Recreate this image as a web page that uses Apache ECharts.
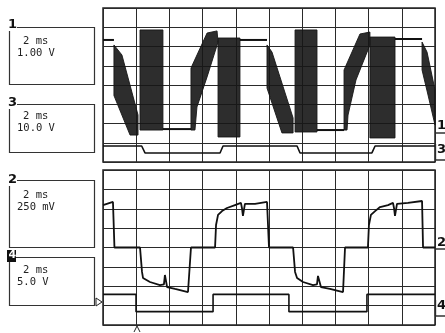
<!DOCTYPE html>
<html><head><meta charset="utf-8">
<script src="https://cdn.jsdelivr.net/npm/echarts@6/dist/echarts.min.js"></script>
<style>html,body{margin:0;padding:0;background:#fff}#c{width:445px;height:333px}</style>
</head><body><div id="c"></div><script>
// Time axis: 0..20 ms (2 ms/div), vertical axis in screen divisions (-4..4)
const channelIds = ['1', '3', '2', '4'];
const timebase = ['2 ms', '2 ms', '2 ms', '2 ms'];
const voltScales = ['1.00 V', '10.0 V', '250 mV', '5.0 V'];

// Channel 1: flat parts of the trace
const ch1Flats = [
  [[0, 2.34], [0.66, 2.34]],
  [[3.61, -2.29], [5.30, -2.29]],
  [[8.25, 2.34], [9.88, 2.34]],
  [[12.89, -2.34], [14.52, -2.34]],
  [[17.59, 2.39], [19.22, 2.39]]
];
// Channel 1: envelopes of the densely switching parts
const ch1Bands = [
  [[0.66, 2.08], [1.14, 1.56], [2.11, -1.56], [2.11, -2.60], [1.63, -2.60], [0.66, -0.55]],
  [[2.23, 2.86], [3.61, 2.86], [3.61, -2.34], [2.23, -2.34]],
  [[5.30, -2.34], [5.30, 0.88], [6.27, 2.70], [6.87, 2.81], [6.93, 2.23], [6.27, 0.42], [5.66, -1.14], [5.54, -2.34]],
  [[6.93, 2.44], [8.25, 2.44], [8.25, -2.70], [6.93, -2.70]],
  [[9.88, 2.08], [10.18, 1.71], [11.45, -1.71], [11.45, -2.49], [10.78, -2.49], [9.88, -0.16]],
  [[11.57, 2.86], [12.89, 2.86], [12.89, -2.44], [11.57, -2.44]],
  [[14.52, -2.34], [14.52, 0.78], [15.48, 2.65], [16.08, 2.75], [16.08, 2.08], [15.24, 0.26], [14.76, -1.56], [14.70, -2.34]],
  [[16.08, 2.49], [17.59, 2.49], [17.59, -2.75], [16.08, -2.75]],
  [[19.22, 2.23], [19.52, 1.71], [20, -0.26], [20, -2.08], [19.58, -0.52], [19.22, 0.78]]
];
const ch3 = [[0, -3.17], [2.33, -3.17], [2.53, -3.53], [7.05, -3.53], [7.23, -3.17], [11.69, -3.17], [11.87, -3.53], [16.20, -3.53], [16.39, -3.17], [20, -3.17]];
const ch2 = [[0, 2.19], [0.60, 2.35], [0.66, 2.30], [0.69, 0], [2.23, 0], [2.35, -1.26], [2.41, -1.57], [2.83, -1.78], [3.43, -1.94], [3.67, -1.90], [3.73, -1.42], [3.86, -2.04], [4.34, -2.14], [5.12, -2.30], [5.24, -2.30], [5.30, 0], [6.75, 0], [6.81, 1.16], [6.93, 1.68], [7.17, 1.88], [7.47, 2.04], [7.95, 2.19], [8.31, 2.30], [8.37, 2.04], [8.43, 1.63], [8.55, 2.25], [9.16, 2.25], [9.88, 2.35], [9.94, 2.35], [10.0, 0], [11.45, 0], [11.57, -1.26], [11.69, -1.57], [12.05, -1.78], [12.65, -1.94], [12.89, -1.90], [12.95, -1.47], [13.13, -2.04], [13.67, -2.14], [14.46, -2.30], [14.52, -2.30], [14.58, 0], [15.96, 0], [16.02, 1.16], [16.14, 1.68], [16.39, 1.88], [16.69, 2.09], [17.17, 2.19], [17.47, 2.30], [17.53, 2.04], [17.59, 1.63], [17.71, 2.25], [18.37, 2.30], [19.22, 2.40], [19.28, 0], [20, 0]];
const ch4 = [[0, -2.42], [1.99, -2.42], [1.99, -3.31], [6.63, -3.31], [6.63, -2.42], [11.20, -2.42], [11.20, -3.31], [15.90, -3.31], [15.90, -2.42], [20, -2.42]];

const chart = echarts.init(document.getElementById('c'), null, {renderer: 'canvas'});
const gridLine = {show: true, lineStyle: {color: '#2a2a2a', width: 1}};
function xAx(i) {
  return {type: 'value', gridIndex: i, min: 0, max: 20, interval: 2,
    axisLabel: {show: false}, axisTick: {show: false}, axisLine: {show: false}, splitLine: gridLine};
}
function yAx(i) {
  return {type: 'value', gridIndex: i, min: -4, max: 4, interval: 1,
    axisLabel: {show: false}, axisTick: {show: false}, axisLine: {show: false}, splitLine: gridLine};
}
const traceStyle = (w) => ({color: '#111', width: w});
const series = [];
ch1Flats.forEach(seg => series.push({type: 'line', xAxisIndex: 0, yAxisIndex: 0, data: seg, symbol: 'none',
  lineStyle: traceStyle(2), silent: true, animation: false}));
series.push({
  type: 'custom', xAxisIndex: 0, yAxisIndex: 0, animation: false, silent: true,
  data: ch1Bands.map((b, i) => [b[0][0], b[0][1], i]),
  renderItem: function (params, api) {
    const band = ch1Bands[params.dataIndex];
    return {type: 'polygon', shape: {points: band.map(p => api.coord(p))},
      style: {fill: '#161616', stroke: '#161616', lineWidth: 1, opacity: 0.9}};
  }
});
series.push({type: 'line', xAxisIndex: 0, yAxisIndex: 0, data: ch3, symbol: 'none', lineStyle: traceStyle(1.6), animation: false, silent: true});
series.push({type: 'line', xAxisIndex: 1, yAxisIndex: 1, data: ch2, symbol: 'none', lineStyle: traceStyle(1.8), animation: false, silent: true});
series.push({type: 'line', xAxisIndex: 1, yAxisIndex: 1, data: ch4, symbol: 'none', lineStyle: traceStyle(1.6), animation: false, silent: true});

// Left readout boxes
const boxes = [
  {y: 25, h: 57, t1: 42, t2: 54, idY: 18},
  {y: 102, h: 48, t1: 117, t2: 129, idY: 96},
  {y: 178, h: 67, t1: 196, t2: 208, idY: 173},
  {y: 255, h: 48, t1: 271, t2: 283, idY: 250}
];
const graphics = [];
const mono = '10.5px "DejaVu Sans Mono"';
boxes.forEach((b, i) => {
  graphics.push({type: 'rect', left: 7, top: b.y, shape: {width: 85, height: b.h},
    style: {fill: 'none', stroke: '#333', lineWidth: 1.2}});
  graphics.push({type: 'text', left: 23, top: b.t1 - 6, style: {text: timebase[i], font: mono, fill: '#222'}});
  graphics.push({type: 'text', left: 17, top: b.t2 - 6, style: {text: voltScales[i], font: mono, fill: '#222'}});
  if (i === 3) {
    graphics.push({type: 'rect', left: 7, top: b.idY, shape: {width: 9, height: 12}, style: {fill: '#111'}});
    graphics.push({type: 'text', left: 8.5, top: b.idY, style: {text: channelIds[i], font: 'bold 11px "DejaVu Sans"', fill: '#fff'}});
  } else {
    graphics.push({type: 'rect', left: 8, top: b.idY + 1, shape: {width: 9, height: 12}, style: {fill: '#fff'}});
    graphics.push({type: 'text', left: 8, top: b.idY, style: {text: channelIds[i], font: 'bold 13px "DejaVu Sans"', fill: '#111'}});
  }
});
// Right channel markers
const rightMarks = [
  {id: '1', y: 119, ly: 133, bracket: false},
  {id: '3', y: 143, ly: 160, bracket: true},
  {id: '2', y: 236, ly: 249, bracket: false},
  {id: '4', y: 299, ly: 316, bracket: true}
];
rightMarks.forEach(m => {
  graphics.push({type: 'text', left: 437, top: m.y, style: {text: m.id, font: 'bold 13px "DejaVu Sans"', fill: '#111'}});
  graphics.push({type: 'line', shape: {x1: 435, y1: m.ly, x2: 445, y2: m.ly}, style: {stroke: '#111', lineWidth: 1.3}});
  if (m.bracket) graphics.push({type: 'line', shape: {x1: 435.5, y1: m.ly - 16, x2: 435.5, y2: m.ly}, style: {stroke: '#111', lineWidth: 1.3}});
});
// Trigger markers
graphics.push({type: 'polygon', shape: {points: [[96, 298], [102, 302], [96, 306]]}, style: {fill: '#fff', stroke: '#222', lineWidth: 1}});
graphics.push({type: 'polyline', shape: {points: [[134, 332], [137, 326], [140, 332]]}, style: {stroke: '#222', lineWidth: 1, fill: 'none'}});

chart.setOption({
  animation: false,
  backgroundColor: '#fff',
  grid: [
    {left: 103, right: 10, top: 8, height: 154, show: true, borderColor: '#222', borderWidth: 1.5, backgroundColor: 'transparent'},
    {left: 103, right: 10, top: 170, height: 155, show: true, borderColor: '#222', borderWidth: 1.5, backgroundColor: 'transparent'}
  ],
  xAxis: [xAx(0), xAx(1)],
  yAxis: [yAx(0), yAx(1)],
  series: series,
  graphic: graphics
});
</script></body></html>
